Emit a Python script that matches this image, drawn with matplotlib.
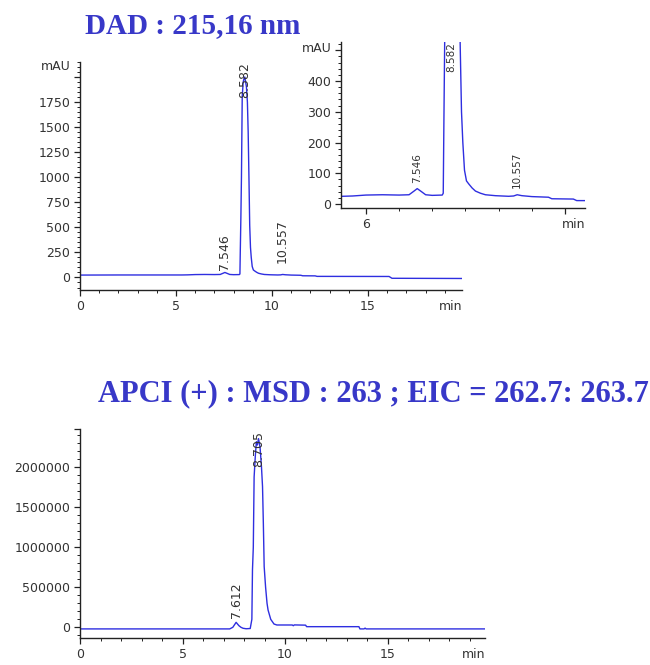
import matplotlib
matplotlib.use("Agg")
import matplotlib.pyplot as plt
from matplotlib.ticker import MultipleLocator

plt.rcParams["font.family"] = ["DejaVu Sans"]

# DAD trace, 215,16 nm (time in min, mAU)
dad_time = [0.0, 2.0, 4.0, 5.3, 5.6, 6.0, 6.5, 7.0, 7.3, 7.45, 7.546, 7.65, 7.8,
            8.0, 8.3, 8.33, 8.35, 8.38, 8.41, 8.45, 8.50, 8.55, 8.582, 8.62,
            8.67, 8.72, 8.76, 8.80, 8.84, 8.88, 8.92, 8.97, 9.03, 9.10, 9.2,
            9.3, 9.45, 9.6, 9.9, 10.3, 10.45, 10.557, 10.7, 11.0, 11.5, 11.6,
            12.25, 12.35, 16.1, 16.25, 19.9]
dad_mau = [24, 25, 25, 25, 26, 29, 30, 29, 30, 42, 50, 42, 30,
           28, 29, 35, 270, 600, 1000, 1800, 1950, 1990, 2000, 1960,
           1900, 1750, 1450, 1000, 520, 300, 200, 110, 75, 65, 52,
           42, 35, 30, 27, 25, 26, 30, 27, 24, 22, 17,
           16, 11, 10, -8, -10]
dad_peaks = [7.546, 8.582, 10.557]
dad_label_y = [70, 1790, 140]
inset_label_y = [68, 430, 52]

# MSD EIC trace (time in min, counts)
ms_time = [0.0, 7.3, 7.45, 7.612, 7.75, 7.85, 7.95, 8.1, 8.3, 8.38, 8.41, 8.45,
           8.49, 8.55, 8.6, 8.65, 8.705, 8.78, 8.85, 8.9, 8.94, 8.98, 9.05,
           9.12, 9.17, 9.3, 9.46, 9.6, 10.35, 10.4, 10.45, 11.0, 11.05, 13.6,
           13.65, 13.85, 13.9, 13.95, 19.8]
ms_counts = [-20000, -20000, 0, 62000, 20000, 0, -12000, -18000, -15000, 100000,
             720000, 1000000, 1880000, 2150000, 2320000, 2280000, 2360000,
             2250000, 2000000, 1760000, 1300000, 760000, 500000, 300000,
             216000, 100000, 41000, 29000, 29000, 20000, 30000, 27000, 8000,
             8000, -20000, -20000, -10000, -20000, -20000]
ms_peaks = [7.612, 8.705]
ms_label_y = [112000, 2000000]

line_color = "#2e2ee0"
title_color = "#3838c8"
text_color = "#333333"
TICK_LEN = 4.6
TICK_PAD = 2.5


def style_axes(ax):
    for s in ["top", "right"]:
        ax.spines[s].set_visible(False)
    for s in ["left", "bottom"]:
        ax.spines[s].set_color("#222222")
        ax.spines[s].set_linewidth(1.0)
    ax.tick_params(which="major", length=TICK_LEN, width=0.9, color="#222222",
                   labelsize=9, labelcolor=text_color, pad=TICK_PAD)
    ax.tick_params(which="minor", length=2.4, width=0.7, color="#222222")


def add_min_label(ax):
    ax.annotate("min", xy=(1, 0), xycoords="axes fraction",
                xytext=(0, -(TICK_LEN + TICK_PAD)), textcoords="offset points",
                ha="right", va="top", fontsize=9, color=text_color)


def add_peak_labels(ax, times, ys, size):
    for t, y in zip(times, ys):
        ax.text(t, y, f"{t:.3f}", rotation=90, ha="center", va="bottom",
                fontsize=size, color=text_color)


fig = plt.figure(figsize=(6.5, 6.65), dpi=100)

# main DAD chromatogram
ax1 = fig.add_axes([0.1231, 0.5639, 0.5877, 0.3429])
ax1.plot(dad_time, dad_mau, color=line_color, lw=1.0)
ax1.set_xlim(0, 19.9)
ax1.set_ylim(-125, 2150)
ax1.set_xticks([0, 5, 10, 15])
ax1.xaxis.set_minor_locator(MultipleLocator(1))
ax1.set_yticks([0, 250, 500, 750, 1000, 1250, 1500, 1750, 2000])
ax1.set_yticklabels(["0", "250", "500", "750", "1000", "1250", "1500", "1750", ""])
ax1.yaxis.set_minor_locator(MultipleLocator(50))
style_axes(ax1)
ax1.annotate("mAU", xy=(0, 2100), xycoords=("axes fraction", "data"),
             xytext=(-(TICK_LEN + TICK_PAD), 0), textcoords="offset points",
             ha="right", va="center", fontsize=9, color=text_color)
add_min_label(ax1)
add_peak_labels(ax1, dad_peaks, dad_label_y, 9)

# zoomed inset
ax2 = fig.add_axes([0.5246, 0.6868, 0.3754, 0.2505])
ax2.plot(dad_time, dad_mau, color=line_color, lw=1.0)
ax2.set_xlim(5.25, 12.6)
ax2.set_ylim(-14, 528)
ax2.set_xticks([6, 12])
ax2.set_xticklabels(["6", ""])
ax2.xaxis.set_minor_locator(MultipleLocator(1))
ax2.set_yticks([0, 100, 200, 300, 400, 500])
ax2.set_yticklabels(["0", "100", "200", "300", "400", ""])
ax2.yaxis.set_minor_locator(MultipleLocator(20))
style_axes(ax2)
ax2.annotate("mAU", xy=(0, 505), xycoords=("axes fraction", "data"),
             xytext=(-(TICK_LEN + TICK_PAD), 0), textcoords="offset points",
             ha="right", va="center", fontsize=9, color=text_color)
add_min_label(ax2)
add_peak_labels(ax2, dad_peaks, inset_label_y, 7.5)

# MSD EIC chromatogram
ax3 = fig.add_axes([0.1231, 0.0402, 0.6231, 0.3147])
ax3.plot(ms_time, ms_counts, color=line_color, lw=1.0)
ax3.set_xlim(0, 19.75)
ax3.set_ylim(-137000, 2480000)
ax3.set_xticks([0, 5, 10, 15])
ax3.xaxis.set_minor_locator(MultipleLocator(1))
ax3.set_yticks([0, 500000, 1000000, 1500000, 2000000, 2480000])
ax3.set_yticklabels(["0", "500000", "1000000", "1500000", "2000000", ""])
ax3.yaxis.set_minor_locator(MultipleLocator(100000))
style_axes(ax3)
add_min_label(ax3)
add_peak_labels(ax3, ms_peaks, ms_label_y, 9)

# titles
fig.text(0.297, 0.962, "DAD : 215,16 nm", ha="center", va="center",
         fontsize=21, fontweight="bold", family="Liberation Serif", color=title_color)
fig.text(0.575, 0.408, "APCI (+) : MSD : 263 ; EIC = 262.7: 263.7", ha="center",
         va="center", fontsize=22, fontweight="bold", family="Liberation Serif",
         color=title_color)

fig.savefig("out.png", dpi=100)
